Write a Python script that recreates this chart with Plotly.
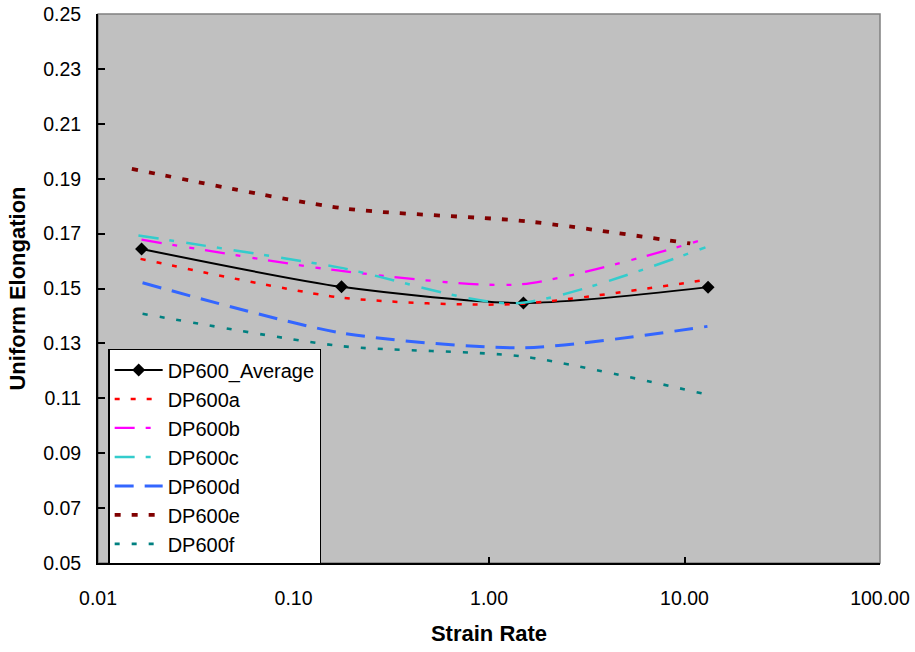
import plotly.graph_objects as go

# ---- data ----
avg_x = [0.0167, 0.176, 1.50, 13.2]
avg_y = [0.1644, 0.1506, 0.1447, 0.1505]

a_x = [0.0165, 0.176, 1.35, 13.3]
a_y = [0.1608, 0.1467, 0.1443, 0.1533]

b_x = [0.0167, 0.180, 1.44, 12.2]
b_y = [0.1678, 0.1563, 0.1515, 0.1676]

c_x = [0.0161, 0.170, 1.36, 12.8]
c_y = [0.1693, 0.1577, 0.1446, 0.1650]

d_x = [0.0169, 0.176, 1.50, 13.1]
d_y = [0.1521, 0.1338, 0.1284, 0.1362]

e_x = [0.0149, 0.180, 1.55, 10.7]
e_y = [0.1936, 0.1792, 0.1745, 0.1664]

f_x = [0.0169, 0.176, 1.50, 12.8]
f_y = [0.1408, 0.1290, 0.1252, 0.1115]

x_tickvals = [0.01, 0.1, 1, 10, 100]
x_ticktext = ["0.01", "0.10", "1.00", "10.00", "100.00"]
y_tickvals = [0.05, 0.07, 0.09, 0.11, 0.13, 0.15, 0.17, 0.19, 0.21, 0.23, 0.25]

FONT = "Liberation Sans, Arial, sans-serif"

series = [
    ("DP600a", a_x, a_y, "#FF0000", 2.5, "5px,11px"),
    ("DP600b", b_x, b_y, "#FF00FF", 2.3, "20px,11px,5px,12px,5px,11px"),
    ("DP600c", c_x, c_y, "#33CCCC", 2.5, "20px,11px,5px,12px"),
    ("DP600d", d_x, d_y, "#3366FF", 3.0, "19px,11px"),
    ("DP600e", e_x, e_y, "#800000", 3.8, "6px,11px"),
    ("DP600f", f_x, f_y, "#008080", 2.6, "5px,12px"),
]

SMOOTH = 0.7

fig = go.Figure()
fig.add_trace(go.Scatter(
    x=avg_x, y=avg_y, name="DP600_Average", mode="lines+markers",
    line=dict(color="black", width=2, shape="spline", smoothing=SMOOTH),
    marker=dict(symbol="diamond", size=10, color="black"),
    legendgroup="g0",
))
for i, (name, xs, ys, col, w, dash) in enumerate(series):
    fig.add_trace(go.Scatter(
        x=xs, y=ys, name=name, mode="lines",
        line=dict(color=col, width=w, dash=dash, shape="spline", smoothing=SMOOTH),
        legendgroup=f"g{i+1}",
    ))

fig.update_layout(
    width=915, height=652,
    margin=dict(l=98, r=35, t=14, b=88.5, autoexpand=False),
    paper_bgcolor="white",
    plot_bgcolor="#C0C0C0",
    font=dict(family=FONT, color="black", size=19),
    showlegend=True,
    legend=dict(
        x=0.013, y=0.39, xanchor="left", yanchor="top",
        bgcolor="white", bordercolor="black", borderwidth=1.5,
        font=dict(family=FONT, size=20, color="black"),
        tracegroupgap=0, traceorder="grouped", itemwidth=48,
    ),
    shapes=[dict(type="rect", xref="paper", yref="paper", x0=0, x1=1, y0=0, y1=1,
                 line=dict(color="#808080", width=1.5), layer="below")],
)
fig.update_xaxes(
    type="log", range=[-2, 2], automargin=False,
    tickvals=x_tickvals, ticktext=x_ticktext, ticklabeloverflow="allow",
    ticks="inside", ticklen=6, tickwidth=2, tickcolor="black",
    showline=True, linecolor="black", linewidth=2, mirror=False,
    showgrid=False, zeroline=False,
    tickfont=dict(size=19.5, family=FONT),
    ticklabelstandoff=17,
    title=dict(text="Strain Rate", font=dict(size=22, family=FONT, weight="bold"), standoff=17),
)
fig.update_yaxes(
    range=[0.05, 0.25], tickvals=y_tickvals, tickformat=".2f", automargin=False,
    ticklabeloverflow="allow",
    ticks="inside", ticklen=7, tickwidth=2, tickcolor="black",
    showline=True, linecolor="black", linewidth=2, mirror=False,
    showgrid=False, zeroline=False,
    tickfont=dict(size=19.5, family=FONT),
    ticklabelstandoff=11,
    title=dict(text="Uniform Elongation", font=dict(size=22, family=FONT, weight="bold"), standoff=11),
)

fig.write_html("out.html", config={"displayModeBar": False},
               post_script="document.body.style.margin='0';")
